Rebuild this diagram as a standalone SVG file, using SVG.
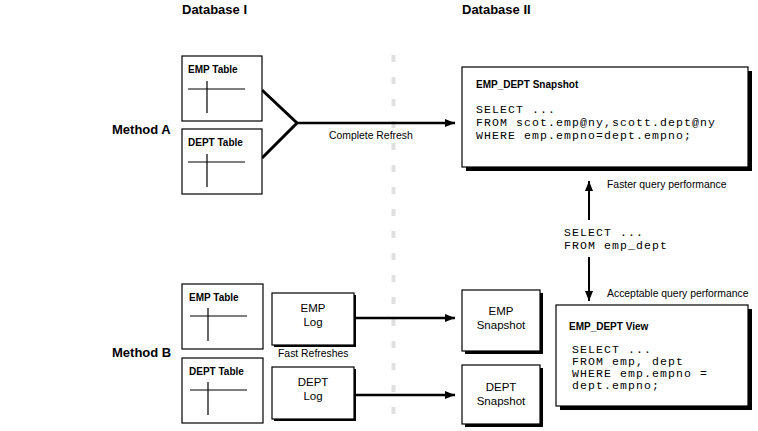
<svg xmlns="http://www.w3.org/2000/svg" width="758" height="431" viewBox="0 0 758 431">
<defs>
<style>
.hdr{font-family:"Liberation Sans",Arial,sans-serif;font-weight:bold;font-size:13px;fill:#000}
.ttl{font-family:"Liberation Sans",Arial,sans-serif;font-weight:bold;font-size:10px;fill:#000}
.lbl{font-family:"Liberation Sans",Arial,sans-serif;font-size:10.4px;fill:#000}
.box{font-family:"Liberation Sans",Arial,sans-serif;font-size:11.5px;fill:#000;text-anchor:middle}
.code{font-family:"Liberation Mono","Courier New",monospace;font-size:11.5px;letter-spacing:1.1px;fill:#000}
.frame{fill:#fff;stroke:#000;stroke-width:1.2}
.shadow{fill:#000}
.grid{stroke:#000;stroke-width:1.2;fill:none}
.conn{stroke:#000;fill:none}
</style>
<marker id="ah" viewBox="0 0 10 8" refX="10" refY="4" markerWidth="10" markerHeight="8" markerUnits="userSpaceOnUse" orient="auto">
<path d="M0,0 L10,4 L0,8 Z" fill="#000"/>
</marker>
</defs>
<rect width="758" height="431" fill="#fff"/>

<text class="hdr" x="182" y="14">Database I</text>
<text class="hdr" x="462" y="14">Database II</text>
<text class="hdr" x="112" y="134">Method A</text>
<text class="hdr" x="112" y="357">Method B</text>

<line x1="393.5" y1="55" x2="393.5" y2="422" stroke="#e0e0e0" stroke-width="4" stroke-dasharray="7,15"/>

<g id="connectors">
<polyline class="conn" stroke-width="3" points="262,90 297,123 262,158"/>
<line class="conn" stroke-width="2.5" x1="297" y1="123" x2="455" y2="123" marker-end="url(#ah)"/>
<text class="lbl" x="329" y="139">Complete Refresh</text>
<line class="conn" stroke-width="2" x1="589" y1="220" x2="589" y2="181" marker-end="url(#ah)"/>
<line class="conn" stroke-width="2" x1="589" y1="257" x2="589" y2="301" marker-end="url(#ah)"/>
<text class="lbl" x="607" y="188">Faster query performance</text>
<text class="lbl" x="607" y="297">Acceptable query performance</text>
<text class="code" x="564" y="236">SELECT ...</text>
<text class="code" x="564" y="249">FROM emp_dept</text>
<line class="conn" stroke-width="2.5" x1="354" y1="318" x2="455" y2="318" marker-end="url(#ah)"/>
<line class="conn" stroke-width="2.5" x1="354" y1="395" x2="455" y2="395" marker-end="url(#ah)"/>
<text class="lbl" x="278" y="357">Fast Refreshes</text>
</g>

<g id="empTableA">
<rect class="frame" x="182" y="56" width="80" height="65"/>
<text class="ttl" x="188" y="73">EMP Table</text>
<line class="grid" x1="188" y1="89" x2="245" y2="89"/>
<line class="grid" x1="207" y1="81" x2="207" y2="113"/>
</g>
<g id="deptTableA">
<rect class="frame" x="182" y="129" width="80" height="65"/>
<text class="ttl" x="188" y="146">DEPT Table</text>
<line class="grid" x1="188" y1="162" x2="245" y2="162"/>
<line class="grid" x1="207" y1="154" x2="207" y2="187"/>
</g>

<g id="empDeptSnapshot">
<rect class="shadow" x="466" y="71" width="286" height="100"/>
<rect class="frame" x="462" y="67" width="286" height="100"/>
<text class="ttl" x="476" y="88">EMP_DEPT Snapshot</text>
<text class="code" x="476" y="113">SELECT ...</text>
<text class="code" x="476" y="126">FROM scot.emp@ny,scott.dept@ny</text>
<text class="code" x="476" y="139">WHERE emp.empno=dept.empno;</text>
</g>

<g id="empTableB">
<rect class="frame" x="182" y="284" width="81" height="65"/>
<text class="ttl" x="189" y="301">EMP Table</text>
<line class="grid" x1="190" y1="316" x2="247" y2="316"/>
<line class="grid" x1="208" y1="308" x2="208" y2="341"/>
</g>
<g id="deptTableB">
<rect class="frame" x="182" y="358" width="81" height="65"/>
<text class="ttl" x="189" y="375">DEPT Table</text>
<line class="grid" x1="190" y1="390" x2="247" y2="390"/>
<line class="grid" x1="208" y1="382" x2="208" y2="415"/>
</g>

<g id="empLog">
<rect class="shadow" x="274" y="295" width="82" height="52"/>
<rect class="frame" x="272" y="293" width="82" height="52"/>
<text class="box" x="313" y="312">EMP</text>
<text class="box" x="313" y="326">Log</text>
</g>
<g id="deptLog">
<rect class="shadow" x="274" y="369" width="82" height="52"/>
<rect class="frame" x="272" y="367" width="82" height="52"/>
<text class="box" x="313" y="386">DEPT</text>
<text class="box" x="313" y="400">Log</text>
</g>

<g id="empSnapshot">
<rect class="shadow" x="465" y="293" width="78" height="61"/>
<rect class="frame" x="462" y="290" width="78" height="61"/>
<text class="box" x="501" y="315">EMP</text>
<text class="box" x="501" y="329">Snapshot</text>
</g>
<g id="deptSnapshot">
<rect class="shadow" x="465" y="368" width="78" height="59"/>
<rect class="frame" x="462" y="365" width="78" height="59"/>
<text class="box" x="501" y="391">DEPT</text>
<text class="box" x="501" y="405">Snapshot</text>
</g>

<g id="empDeptView">
<rect class="shadow" x="560" y="309" width="192" height="101"/>
<rect class="frame" x="556" y="305" width="192" height="101"/>
<text class="ttl" x="569" y="330">EMP_DEPT View</text>
<text class="code" x="572" y="353">SELECT ...</text>
<text class="code" x="572" y="365">FROM emp, dept</text>
<text class="code" x="572" y="377">WHERE emp.empno =</text>
<text class="code" x="572" y="389">dept.empno;</text>
</g>
</svg>
